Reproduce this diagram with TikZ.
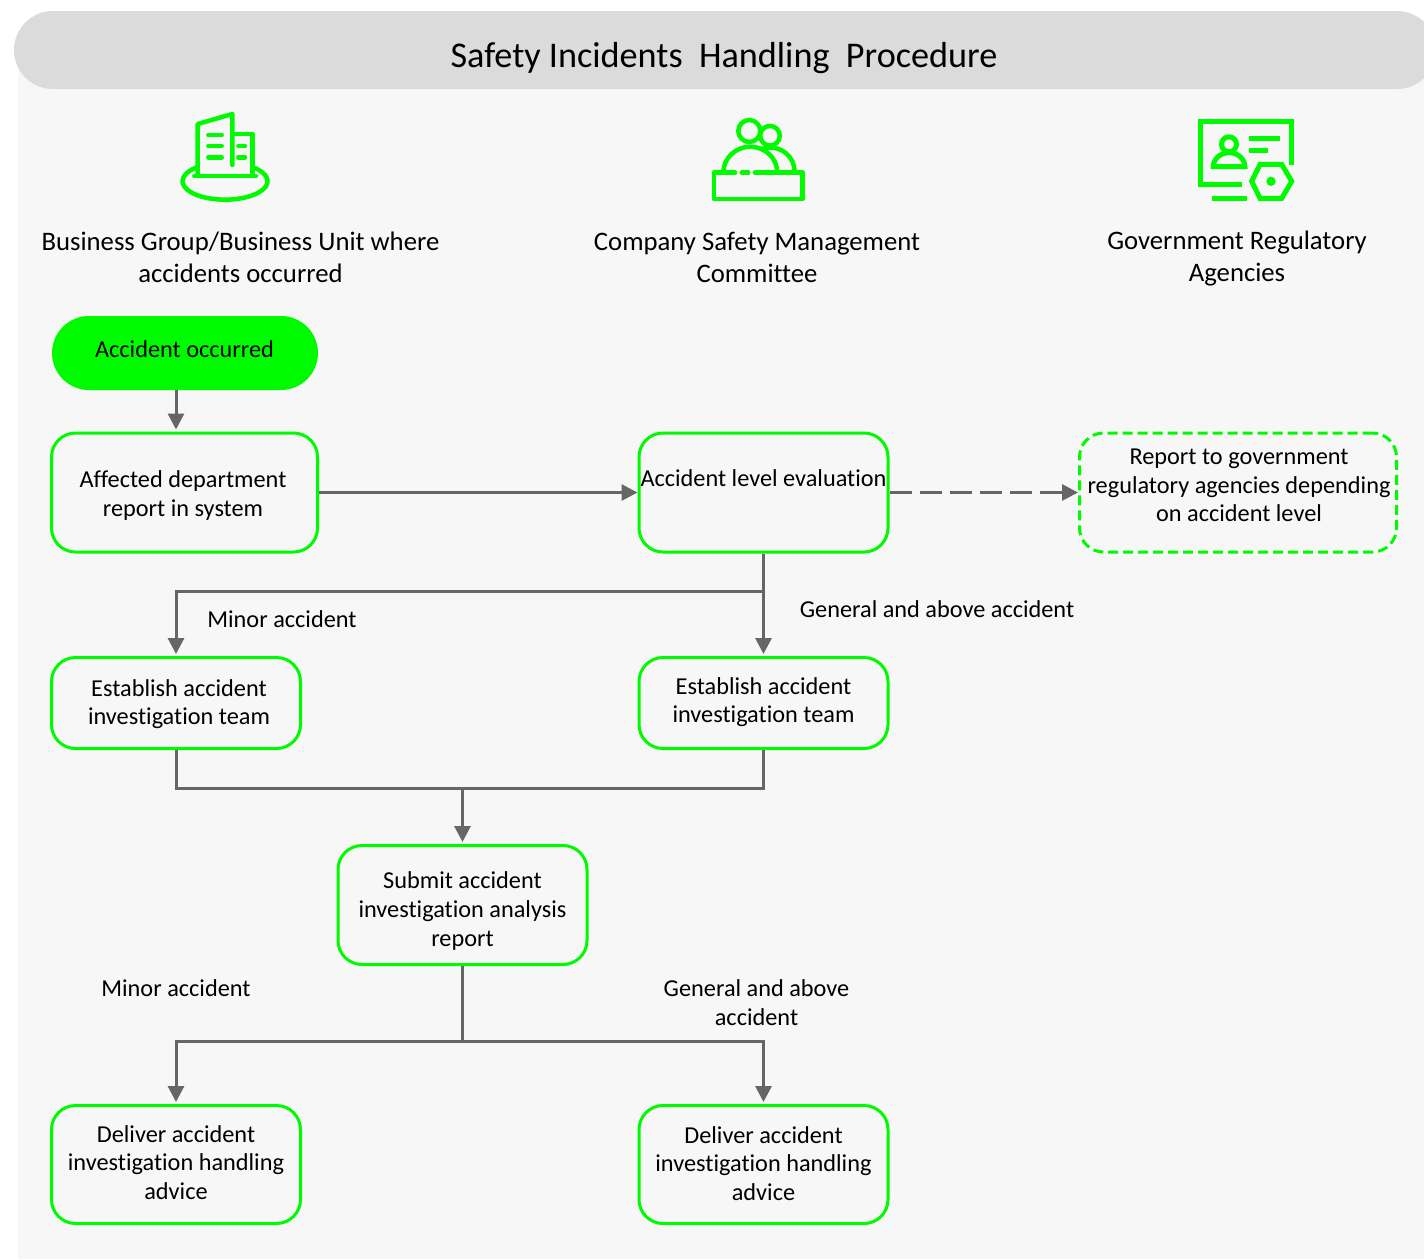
\documentclass[tikz,border=0pt]{standalone}
\usepackage{xcolor}
\usepackage{fontspec}
\setmainfont[RawFeature={-liga}]{Carlito}
\usetikzlibrary{positioning, arrows.meta, calc}
\definecolor{safegreen}{HTML}{00FA00}
\definecolor{flowgray}{HTML}{666666}
\definecolor{panelgray}{HTML}{F7F7F7}
\definecolor{headgray}{HTML}{DBDBDB}

\begin{document}
\begin{tikzpicture}[
        x=1pt, y=-1pt,
        flowbox/.style={rectangle, draw=safegreen, line width=3pt, rounded corners=24pt, fill=panelgray},
        startbox/.style={rectangle, fill=safegreen, rounded corners=37pt, minimum width=266pt, minimum height=74pt},
        boxtext/.style={align=center, font=\fontsize{24.3}{28.6}\selectfont, text=black},
        heading/.style={align=center, font=\fontsize{26.7}{32}\selectfont, text=black},
        note/.style={align=center, font=\fontsize{24.3}{29}\selectfont, text=black},
        flow/.style={draw=flowgray, line width=3pt, -{Triangle[length=16pt,width=16pt]}},
        plainflow/.style={draw=flowgray, line width=3pt},
        icon/.style={draw=safegreen, line width=4.5pt, line cap=round, line join=round}
    ]
    \useasboundingbox (0,0) rectangle (1424,1259);

    % Panel and title band
    \fill[panelgray] (18,50) rectangle (1424,1259);
    \begin{scope}
        \clip (0,0) rectangle (1424,1259);
        \fill[headgray, rounded corners=39pt] (14,11) rectangle (1436,89);
    \end{scope}
    \node[font=\fontsize{36.2}{40}\selectfont, text=black] (title) at (724,58) {Safety Incidents\ \ Handling\ \ Procedure};

    % Building icon
    \draw[icon] (197.7,175) -- (197.7,124) -- (232.3,114) -- (232.3,165);
    \draw[icon] (233,134) -- (252.3,134) -- (252.3,175);
    \draw[icon] (194.3,176) -- (256,176);
    \foreach \wy in {135,146,157.3} {
        \draw[icon] (208.3,\wy) -- (221.7,\wy);
    }
    \foreach \wy in {146,157.3} {
        \draw[icon] (238.3,\wy) -- (245,\wy);
    }
    \draw[icon] (197.7,167) arc[start angle=130, end angle=410, x radius=42.5pt, y radius=18.5pt];

    % Committee icon
    \draw[icon] (735,172.7) -- (714,172.7) -- (714,199) -- (802.7,199) -- (802.7,172.7) -- (755,172.7);
    \draw[icon] (741.7,172.7) -- (748.3,172.7);
    \draw[icon] (749.3,131) circle[radius=11pt];
    \draw[icon] (770,135.7) circle[radius=9.8pt];
    \draw[icon] (723.3,172.7) arc[start angle=180, end angle=0, x radius=27pt, y radius=26pt];
    \draw[icon] (762,149) arc[start angle=110, end angle=0, x radius=24.3pt, y radius=24pt];

    % Agency icon
    \begin{scope}[icon, line width=5pt, line cap=butt, line join=miter]
        \draw (1291.7,165) -- (1291.7,121) -- (1200,121) -- (1200,184.3) -- (1241.7,184.3);
        \draw (1212.3,198.3) -- (1246.7,198.3);
        \draw (1249.3,138.3) -- (1280,138.3);
        \draw (1249.3,150) -- (1268.3,150);
        \draw (1229,144.3) circle[radius=7.5pt];
        \draw (1213.3,166.7) arc[start angle=180, end angle=0, x radius=15.8pt, y radius=14pt] -- cycle;
        \draw (1251.7,181.3) -- (1260,164.3) -- (1281.7,164.3) -- (1291.7,181.3) -- (1281.7,198.3) -- (1260,198.3) -- cycle;
    \end{scope}
    \fill[safegreen] (1271,181.3) circle[radius=4.7pt];

    % Column headings
    \node[heading] (headBU) at (240.5,257) {Business Group/Business Unit where\\accidents occurred};
    \node[heading] (headCom) at (757,257) {Company Safety Management\\Committee};
    \node[heading] (headGov) at (1237,259) {Government Regulatory\\Agencies};

    % Boxes, text is set as a label because it sits off centre in most of them
    \node[startbox, label={[boxtext, shift={(-0.5,-4)}]center:Accident occurred}] (occurred) at (185,353) {};
    \node[flowbox, minimum width=266pt, minimum height=119pt, label={[boxtext, shift={(-1.5,3)}]center:{Affected department\\report in system}}] (affected) at (184.5,492.5) {};
    \node[flowbox, minimum width=249pt, minimum height=119pt, label={[boxtext, shift={(0,-14.5)}]center:Accident level evaluation}] (evaluation) at (763.5,492.5) {};
    \node[flowbox, dash pattern=on 10pt off 5pt, minimum width=317pt, minimum height=119pt, label={[boxtext, shift={(1,-7)}]center:{Report to government\\regulatory agencies depending\\on accident level}}] (report) at (1238,492.5) {};
    \node[flowbox, minimum width=249pt, minimum height=91pt, label={[boxtext, shift={(3,1)}]center:{Establish accident\\investigation team}}] (teamMinor) at (176,703) {};
    \node[flowbox, minimum width=249pt, minimum height=91pt, label={[boxtext, shift={(0,-1)}]center:{Establish accident\\investigation team}}] (teamGeneral) at (763.5,703) {};
    \node[flowbox, minimum width=249pt, minimum height=119pt, label={[boxtext, shift={(0,6)}]center:{Submit accident\\investigation analysis\\report}}] (analysis) at (462.5,905) {};
    \node[flowbox, minimum width=249pt, minimum height=118pt, label={[boxtext, shift={(0,-2)}]center:{Deliver accident\\investigation handling\\advice}}] (adviceMinor) at (176,1164.5) {};
    \node[flowbox, minimum width=249pt, minimum height=118pt, label={[boxtext, shift={(0,-1)}]center:{Deliver accident\\investigation handling\\advice}}] (adviceGeneral) at (763.5,1164.5) {};

    % Branch labels
    \node[note] (minorA) at (282,619) {Minor accident};
    \node[note] (generalA) at (937,609) {General and above accident};
    \node[note] (minorB) at (176,988) {Minor accident};
    \node[note] (generalB) at (756.5,1003) {General and above\\accident};

    % Connector bends
    \coordinate (dropL) at (176,591);
    \coordinate (joinT) at (462.5,788);
    \coordinate (splitT) at (462.5,1041);

    % Connectors
    \draw[flow, shorten >=2pt] (occurred.south -| dropL) -- (affected.north -| dropL);
    \draw[flow] (affected.east) -- (evaluation.west);
    \draw[flow, dash pattern=on 22pt off 8pt] (evaluation.east) -- (report.west);
    \draw[flow, shorten >=2pt] (evaluation.south) -- (teamGeneral.north);
    \draw[flow, shorten >=2pt] (evaluation.south |- dropL) -- (dropL) -- (teamMinor.north);
    \draw[plainflow] (teamMinor.south) |- (joinT);
    \draw[plainflow] (teamGeneral.south) |- (joinT);
    \draw[flow, shorten >=2pt] (joinT) -- (analysis.north);
    \draw[plainflow] (analysis.south) -- (splitT);
    \draw[flow, shorten >=2pt] (splitT) -| (adviceMinor.north);
    \draw[flow, shorten >=2pt] (splitT) -| (adviceGeneral.north);

\end{tikzpicture}
\end{document}
